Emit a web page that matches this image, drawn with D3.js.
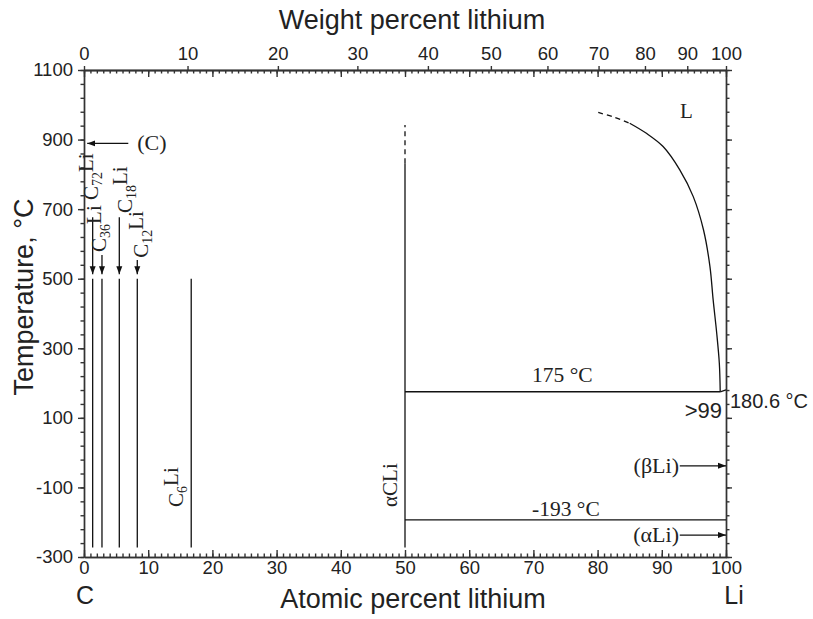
<!DOCTYPE html>
<html>
<head>
<meta charset="utf-8">
<script src="https://cdnjs.cloudflare.com/ajax/libs/d3/7.8.5/d3.min.js"></script>
<style>
	body { margin: 0; background: #fff; }
	svg { display: block; }
	.tick text { font-family: "Liberation Sans", Arial, sans-serif; font-size: 18.5px; fill: #222; }
	.axis path, .axis line { stroke: #333; stroke-width: 1.4px; }
	.serif { font-family: "Liberation Serif", "Times New Roman", serif; fill: #222; }
	.sans { font-family: "Liberation Sans", Arial, sans-serif; fill: #222; }
</style>
</head>
<body>
<div id="chart"></div>
<script>
// tick labels
const atomicTicks = [0, 10, 20, 30, 40, 50, 60, 70, 80, 90, 100];
const weightTicks = [0, 10, 20, 30, 40, 50, 60, 70, 80, 90, 100];
const tempTicks = [1100, 900, 700, 500, 300, 100, -100, -300];

// intercalation compounds (atomic % Li)
const compoundBase = ["C", "C", "C", "C", "C"];
const compoundSub = ["72", "36", "18", "12", "6"];
const compoundAtomic = [1.35, 2.8, 5.5, 8.3, 16.7];
const compoundTop = 500;
const compoundBottom = -273;

// alpha CLi line
const aCLiAtomic = 50;
const aCLiSolid = [-273, 832];
const aCLiDashed = [832, 942];

// liquidus on the Li side
const liquidusDashAtomic = [80.1, 82.6, 85.0];
const liquidusDashTemp = [978, 964, 947];
const liquidusAtomic = [85.0, 87.6, 90.2, 92.8, 94.9, 96.5, 97.5, 98.0, 98.55, 98.96, 99.1, 100];
const liquidusTemp = [947, 918, 880, 813, 736, 640, 535, 439, 344, 257, 175, 180.6];

// invariant lines
const eutecticTemp = 175;
const transitionTemp = -193;
const graphiteTemp = 889;
const betaLiTemp = -38;
const alphaLiTemp = -237;

const width = 813, height = 619;
const margin = {left: 84, right: 87, top: 70, bottom: 62};

const svg = d3.select("#chart").append("svg")
	.attr("width", width)
	.attr("height", height);

const x = d3.scaleLinear().domain([0, 100]).range([margin.left, width - margin.right]);
const y = d3.scaleLinear().domain([-300, 1100]).range([height - margin.bottom, margin.top]);

// weight % Li -> atomic % Li
function toAtomic (w) {
	const li = w / 6.941, c = (100 - w) / 12.011;
	return li / (li + c) * 100;
}

svg.append("defs").append("marker")
	.attr("id", "arrow")
	.attr("markerUnits", "userSpaceOnUse")
	.attr("markerWidth", 9)
	.attr("markerHeight", 8)
	.attr("refX", 8)
	.attr("refY", 4)
	.attr("orient", "auto")
	.append("path")
	.attr("d", "M0,1L8,4L0,7Z")
	.attr("fill", "#111");

// axes
const minorAt = x.ticks(100);
const minorT = d3.range(-300, 1101, 40);
const plain = d => String(d);

function axisGroup (axis, tx, ty) {
	return svg.append("g")
		.attr("class", "axis")
		.attr("transform", `translate(${tx},${ty})`)
		.call(axis);
}

axisGroup(d3.axisBottom(x).tickValues(minorAt).tickSizeInner(-3.5).tickSizeOuter(0).tickFormat(""), 0, y(-300));
axisGroup(d3.axisBottom(x).tickValues(atomicTicks).tickSizeInner(-7).tickSizeOuter(0).tickPadding(4).tickFormat(plain), 0, y(-300));

axisGroup(d3.axisTop(x).tickValues(minorAt).tickSizeInner(-3.5).tickSizeOuter(0).tickFormat(""), 0, y(1100));
axisGroup(d3.axisTop(x).tickValues(atomicTicks).tickSizeInner(-7).tickSizeOuter(0).tickFormat(""), 0, y(1100));
axisGroup(d3.axisTop(x).tickValues(weightTicks.map(toAtomic)).tickSizeInner(4).tickSizeOuter(0)
	.tickPadding(6).tickFormat((d, i) => weightTicks[i]), 0, y(1100));

axisGroup(d3.axisLeft(y).tickValues(minorT).tickSizeInner(3.5).tickSizeOuter(0).tickFormat(""), x(0), 0);
axisGroup(d3.axisLeft(y).tickValues(tempTicks).tickSizeInner(6).tickSizeOuter(0).tickPadding(5).tickFormat(plain), x(0), 0);

axisGroup(d3.axisRight(y).tickValues(minorT).tickSizeInner(3.5).tickSizeOuter(0).tickFormat(""), x(100), 0);
axisGroup(d3.axisRight(y).tickValues(tempTicks).tickSizeInner(6).tickSizeOuter(0).tickFormat(""), x(100), 0);

svg.selectAll(".axis .domain").attr("stroke-width", 1.6);

// titles
svg.append("text").attr("class", "sans")
	.attr("x", 412).attr("y", 29)
	.attr("text-anchor", "middle")
	.style("font-size", "27px")
	.text("Weight percent lithium");

svg.append("text").attr("class", "sans")
	.attr("x", 413).attr("y", 608)
	.attr("text-anchor", "middle")
	.style("font-size", "27px")
	.text("Atomic percent lithium");

svg.append("text").attr("class", "sans")
	.attr("transform", "translate(33,297) rotate(-90)")
	.attr("text-anchor", "middle")
	.style("font-size", "27px")
	.text("Temperature, °C");

svg.append("text").attr("class", "sans")
	.attr("x", x(0) + 1).attr("y", 604)
	.attr("text-anchor", "middle")
	.style("font-size", "25px")
	.text("C");

svg.append("text").attr("class", "sans")
	.attr("x", x(100) + 8).attr("y", 604)
	.attr("text-anchor", "middle")
	.style("font-size", "25px")
	.text("Li");

// phase lines
const plot = svg.append("g")
	.attr("fill", "none")
	.attr("stroke", "#111")
	.attr("stroke-width", 1.3);

plot.selectAll(".compound")
	.data(compoundAtomic)
	.enter().append("line")
	.attr("class", "compound")
	.attr("x1", d => x(d)).attr("x2", d => x(d))
	.attr("y1", y(compoundTop)).attr("y2", y(compoundBottom));

plot.append("line")
	.attr("x1", x(aCLiAtomic)).attr("x2", x(aCLiAtomic))
	.attr("y1", y(aCLiSolid[0])).attr("y2", y(aCLiSolid[1]));

plot.append("line")
	.attr("x1", x(aCLiAtomic)).attr("x2", x(aCLiAtomic))
	.attr("y1", y(aCLiDashed[0])).attr("y2", y(aCLiDashed[1]))
	.attr("stroke-dasharray", "5,4");

plot.append("line")
	.attr("x1", x(aCLiAtomic)).attr("x2", x(liquidusAtomic[10]))
	.attr("y1", y(eutecticTemp)).attr("y2", y(eutecticTemp));

plot.append("line")
	.attr("x1", x(aCLiAtomic)).attr("x2", x(100))
	.attr("y1", y(transitionTemp)).attr("y2", y(transitionTemp));

const line = d3.line()
	.x(d => x(d[0]))
	.y(d => y(d[1]))
	.curve(d3.curveCatmullRom);

plot.append("path")
	.attr("d", line(d3.zip(liquidusDashAtomic, liquidusDashTemp)))
	.attr("stroke-dasharray", "5,4");

plot.append("path")
	.attr("d", line.curve(d3.curveLinear)(d3.zip(liquidusAtomic.slice(-2), liquidusTemp.slice(-2))));

plot.append("path")
	.attr("d", line.curve(d3.curveCatmullRom)(d3.zip(liquidusAtomic.slice(0, -1), liquidusTemp.slice(0, -1))));

// arrows
const arrows = svg.append("g")
	.attr("stroke", "#111")
	.attr("stroke-width", 1.3);

function arrow (x1, y1, x2, y2) {
	arrows.append("line")
		.attr("x1", x1).attr("y1", y1)
		.attr("x2", x2).attr("y2", y2)
		.attr("marker-end", "url(#arrow)");
}

arrow(x(6.9), y(graphiteTemp), x(0.5), y(graphiteTemp));
arrow(x(92.8), y(betaLiTemp), x(100), y(betaLiTemp));
arrow(x(92.8), y(alphaLiTemp), x(100), y(alphaLiTemp));

const arrowFrom = [677, 568, 677, 554];
compoundAtomic.slice(0, 4).forEach((d, i) => arrow(x(d), y(arrowFrom[i]), x(d), y(513)));

// compound labels, rotated
const labelDx = [5.3, 4, 12.7, 10.3, -8.7];
const labelTemp = [726, 577, 689, 560, -156];

function rotLabel (px, py, base, sub, tail) {
	const t = svg.append("text").attr("class", "serif")
		.attr("transform", `translate(${px},${py}) rotate(-90)`)
		.style("font-size", "21px");
	t.append("tspan").text(base);
	if (sub) {
		t.append("tspan").attr("dy", "0.32em").style("font-size", "14px").text(sub);
		t.append("tspan").attr("dy", "-0.45em").text(tail);
	} else {
		t.append("tspan").text(tail);
	}
}

compoundAtomic.forEach((d, i) => {
	rotLabel(x(d) + labelDx[i], y(labelTemp[i]), compoundBase[i], compoundSub[i], "Li");
});
rotLabel(x(aCLiAtomic) - 7.7, y(-156), "αCLi", null, "");

// other annotations
function note (cls, px, py, size, anchor, str) {
	svg.append("text").attr("class", cls)
		.attr("x", px).attr("y", py)
		.attr("text-anchor", anchor)
		.style("font-size", size)
		.text(str);
}

note("serif", 680, 118, "21px", "start", "L");
note("serif", x(8.3), y(graphiteTemp) + 7, "22px", "start", "(C)");
note("serif", 532, y(eutecticTemp) - 10, "21.5px", "start", "175 °C");
note("serif", 532, y(transitionTemp) - 4, "21.5px", "start", "-193 °C");
note("serif", 679, y(betaLiTemp) + 7, "22px", "end", "(βLi)");
note("serif", 679, y(alphaLiTemp) + 7, "22px", "end", "(αLi)");
note("sans", x(100) + 4, 408, "20px", "start", "180.6 °C");
note("sans", 722, 418, "22px", "end", ">99");
</script>
</body>
</html>
